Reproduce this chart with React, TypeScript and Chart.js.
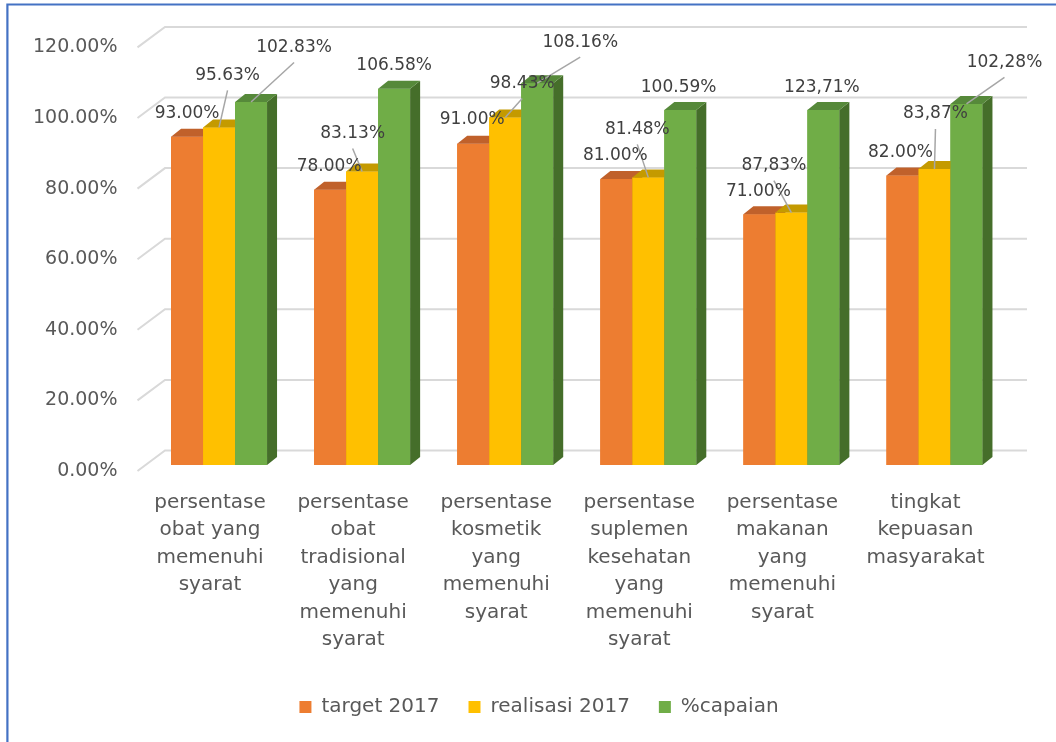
import React, { useEffect, useRef } from "react";
import { Chart, registerables } from "chart.js";

Chart.register(...registerables);

// ---------- data ----------
const categories: string[][] = [
  ["persentase", "obat yang", "memenuhi", "syarat"],
  ["persentase", "obat", "tradisional", "yang", "memenuhi", "syarat"],
  ["persentase", "kosmetik", "yang", "memenuhi", "syarat"],
  ["persentase", "suplemen", "kesehatan", "yang", "memenuhi", "syarat"],
  ["persentase", "makanan", "yang", "memenuhi", "syarat"],
  ["tingkat", "kepuasan", "masyarakat"],
];
const seriesNames = ["target 2017", "realisasi 2017", "%capaian"];
const target2017 = [93, 78, 91, 81, 71, 82];
const realisasi2017 = [95.63, 83.13, 98.43, 81.48, 71.5, 83.87];
const capaian = [102.83, 106.58, 108.16, 100.59, 100.6, 102.28];
const targetLabels = ["93.00%", "78.00%", "91.00%", "81.00%", "71.00%", "82.00%"];
const realisasiLabels = ["95.63%", "83.13%", "98.43%", "81.48%", "87,83%", "83,87%"];
const capaianLabels = ["102.83%", "106.58%", "108.16%", "100.59%", "123,71%", "102,28%"];
const yTicks = [0, 20, 40, 60, 80, 100, 120];

// ---------- styling / layout ----------
const FONT = "'DejaVu Sans', sans-serif";
const frontColors = ["#ED7D31", "#FFC000", "#70AD47"];
const topColors = ["#C0612B", "#C49A00", "#56893A"];
const sideColors = ["#AD5521", "#B08A00", "#456E2A"];
const depthX = 10;
const depthY = -8;
const labelTexts = [targetLabels, realisasiLabels, capaianLabels];
// label centre offsets relative to bar front-top centre (manual placement as in source)
const labelOffsets: number[][][] = [
  [[0, -23], [-1, -23], [-1, -24], [-1, -23], [-1, -23], [-2, -23]],
  [[8.5, -52], [-9.5, -38], [17, -34], [-11, -48], [-17.5, -47], [1, -55]],
  [[43, -54.5], [0, -23], [43, -41], [-1.7, -22], [-1.5, -22], [38, -41.5]],
];
const leaderLines: boolean[][] = [
  [false, false, false, false, false, false],
  [true, true, true, true, true, true],
  [true, false, true, false, false, true],
];

const gridPlugin = {
  id: "grid3d",
  beforeDatasetsDraw(chart: any) {
    const { ctx, chartArea } = chart;
    const ys = chart.scales.y;
    ctx.save();
    ctx.strokeStyle = "#D9D9D9";
    ctx.lineWidth = 2;
    yTicks.forEach((v) => {
      const p = ys.getPixelForValue(v);
      ctx.beginPath();
      ctx.moveTo(chartArea.left - 10, p + 6);
      ctx.lineTo(chartArea.left + 17.5, p - 14.5);
      ctx.lineTo(chartArea.right + 21, p - 14.5);
      ctx.stroke();
    });
    ctx.restore();
  },
};

// draws each series' bar as a 3D block, series in order (first = back-most in paint order)
const bar3dPlugin = {
  id: "bar3d",
  afterDatasetsDraw(chart: any) {
    const ctx = chart.ctx;
    chart.data.datasets.forEach((_ds: any, i: number) => {
      const meta = chart.getDatasetMeta(i);
      meta.data.forEach((el: any) => {
        const { x, y, base, width } = el.getProps(["x", "y", "base", "width"], true);
        const l = x - width / 2;
        const r = x + width / 2;
        ctx.save();
        ctx.fillStyle = frontColors[i];
        ctx.fillRect(l, y, width, base - y);
        ctx.fillStyle = sideColors[i];
        ctx.beginPath();
        ctx.moveTo(r, y);
        ctx.lineTo(r + depthX, y + depthY);
        ctx.lineTo(r + depthX, base + depthY);
        ctx.lineTo(r, base);
        ctx.closePath();
        ctx.fill();
        ctx.fillStyle = topColors[i];
        ctx.beginPath();
        ctx.moveTo(l, y);
        ctx.lineTo(l + depthX, y + depthY);
        ctx.lineTo(r + depthX, y + depthY);
        ctx.lineTo(r, y);
        ctx.closePath();
        ctx.fill();
        ctx.restore();
      });
    });
  },
};

const labelPlugin = {
  id: "dataLabels",
  afterDatasetsDraw(chart: any) {
    const ctx = chart.ctx;
    ctx.save();
    ctx.strokeStyle = "#A6A6A6";
    ctx.lineWidth = 1.5;
    chart.data.datasets.forEach((_ds: any, i: number) => {
      const meta = chart.getDatasetMeta(i);
      meta.data.forEach((el: any, j: number) => {
        if (!leaderLines[i][j]) return;
        const lx = el.x + labelOffsets[i][j][0];
        const ly = el.y + labelOffsets[i][j][1];
        ctx.beginPath();
        ctx.moveTo(lx, ly + 15);
        ctx.lineTo(el.x, el.y);
        ctx.stroke();
      });
    });
    ctx.fillStyle = "#404040";
    ctx.font = `17px ${FONT}`;
    ctx.textAlign = "center";
    ctx.textBaseline = "middle";
    chart.data.datasets.forEach((_ds: any, i: number) => {
      const meta = chart.getDatasetMeta(i);
      meta.data.forEach((el: any, j: number) => {
        const lx = el.x + labelOffsets[i][j][0];
        const ly = el.y + labelOffsets[i][j][1];
        ctx.fillText(labelTexts[i][j], lx, ly);
      });
    });
    ctx.restore();
  },
};

const framePlugin = {
  id: "frame",
  afterDraw(chart: any) {
    const ctx = chart.ctx;
    ctx.save();
    ctx.strokeStyle = "#4472C4";
    ctx.lineWidth = 2.2;
    ctx.beginPath();
    ctx.moveTo(7.4, chart.height);
    ctx.lineTo(7.4, 4.5);
    ctx.lineTo(chart.width, 4.5);
    ctx.stroke();
    ctx.restore();
  },
};

export default function App() {
  const ref = useRef<HTMLCanvasElement | null>(null);

  useEffect(() => {
    if (!ref.current) return;
    const seriesValues = [target2017, realisasi2017, capaian];
    const chart = new Chart(ref.current, {
      type: "bar",
      data: {
        labels: categories,
        datasets: seriesValues.map((vals, i) => ({
          label: seriesNames[i],
          data: vals,
          backgroundColor: frontColors[i],
          borderWidth: 0,
          categoryPercentage: 0.671,
          barPercentage: 1,
        })),
      },
      options: {
        responsive: false,
        animation: false,
        events: [],
        layout: { padding: { top: 41, right: 0, bottom: 15, left: 22 } },
        plugins: {
          legend: {
            position: "bottom",
            labels: {
              boxWidth: 12,
              boxHeight: 12,
              padding: 29,
              color: "#595959",
              font: { size: 20, family: FONT },
            },
          },
          tooltip: { enabled: false },
        },
        scales: {
          x: {
            grid: { display: false, drawTicks: false },
            border: { display: false },
            ticks: {
              color: "#595959",
              font: { size: 20, family: FONT, lineHeight: 1.375 },
              padding: 24,
              labelOffset: -9,
              maxRotation: 0,
              minRotation: 0,
              autoSkip: false,
            },
            afterFit: (s: any) => {
              s.height = 203;
            },
          },
          y: {
            min: 0,
            max: 120,
            grid: { display: false, drawTicks: false },
            border: { display: false },
            ticks: {
              stepSize: 20,
              color: "#595959",
              font: { size: 19, family: FONT },
              padding: 30,
              labelOffset: 6,
              callback: (v: any) => Number(v).toFixed(2) + "%",
            },
            afterFit: (s: any) => {
              s.width = 125.5;
            },
          },
          y2: {
            position: "right",
            display: true,
            grid: { display: false, drawTicks: false },
            border: { display: false },
            ticks: { display: false },
            afterFit: (s: any) => {
              s.width = 50;
            },
          },
        },
      } as any,
      plugins: [gridPlugin, bar3dPlugin, labelPlugin, framePlugin],
    });
    return () => chart.destroy();
  }, []);

  return (
    <div
      style={{
        position: "fixed",
        left: 0,
        top: 0,
        width: 1056,
        height: 742,
        background: "#ffffff",
      }}
    >
      <canvas ref={ref} width={1056} height={742} style={{ display: "block" }} />
    </div>
  );
}
